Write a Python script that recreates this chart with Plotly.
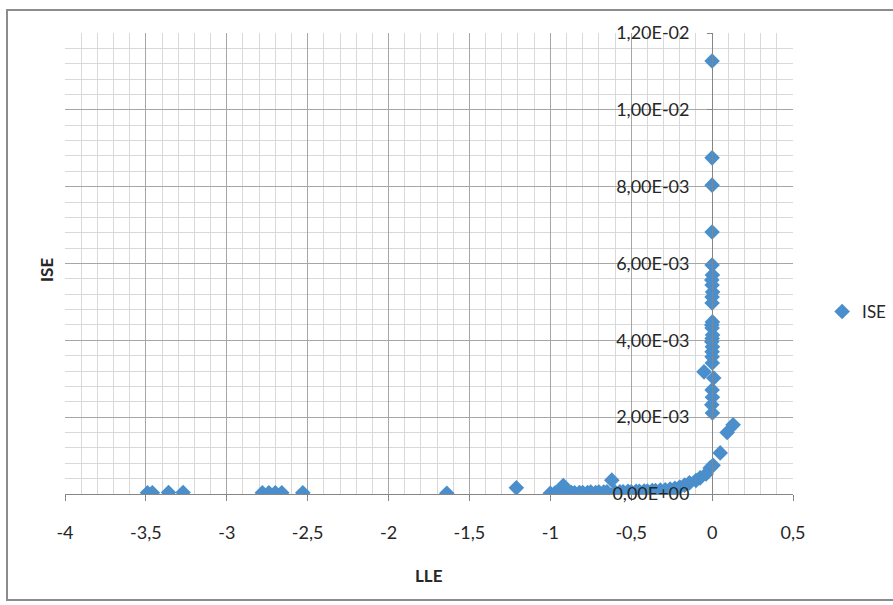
import plotly.graph_objects as go

# ---- data ----
lle = [
    -3.49, -3.46, -3.36, -3.27, -2.78, -2.74, -2.70, -2.66, -2.53, -1.64,
    -1.21,
    -1.00, -0.97, -0.95, -0.92, -0.90, -0.87, -0.85, -0.82, -0.80, -0.77,
    -0.75, -0.72, -0.70, -0.67, -0.65, -0.62, -0.60, -0.57, -0.55, -0.52,
    -0.50, -0.47, -0.45, -0.42, -0.40, -0.37, -0.35,
    -0.32, -0.29, -0.26, -0.23, -0.20, -0.17, -0.14, -0.10, -0.074, -0.037,
    -0.012, 0.006, 0.05, 0.093, 0.13,
    0.0, 0.0, 0.0, 0.0, 0.0, 0.002, -0.002, 0.0, 0.003, 0.0, 0.0,
    0.002, -0.002, 0.0, 0.003, 0.0, -0.002, 0.002, 0.0, 0.0, 0.001,
    -0.05, 0.01, 0.0, 0.002, -0.002, 0.002,
]
ise = [
    3e-5, 3e-5, 4e-5, 4e-5, 3e-5, 3e-5, 3e-5, 3e-5, 3e-5, 2e-5,
    1.6e-4,
    2e-5, 3e-5, 3e-5, 2.2e-4, 3e-5, 4e-5, 3e-5, 4e-5, 4e-5, 4e-5,
    5e-5, 4e-5, 5e-5, 5e-5, 6e-5, 3.6e-4, 5e-5, 6e-5, 6e-5, 7e-5,
    6e-5, 7e-5, 7e-5, 8e-5, 8e-5, 9e-5, 9e-5,
    1.0e-4, 1.1e-4, 1.3e-4, 1.5e-4, 1.8e-4, 2.3e-4, 2.9e-4, 3.5e-4, 4.2e-4, 5.2e-4,
    6.8e-4, 7.5e-4, 1.07e-3, 1.6e-3, 1.8e-3,
    1.127e-2, 8.75e-3, 8.04e-3, 6.82e-3, 5.96e-3, 5.70e-3, 5.57e-3, 5.44e-3, 5.26e-3, 5.13e-3, 4.97e-3,
    4.48e-3, 4.40e-3, 4.32e-3, 4.14e-3, 4.05e-3, 3.96e-3, 3.83e-3, 3.70e-3, 3.57e-3, 3.41e-3,
    3.18e-3, 3.02e-3, 2.71e-3, 2.52e-3, 2.32e-3, 2.11e-3,
]

x_tickvals = [-4, -3.5, -3, -2.5, -2, -1.5, -1, -0.5, 0, 0.5]
x_ticktext = ["-4", "-3,5", "-3", "-2,5", "-2", "-1,5", "-1", "-0,5", "0", "0,5"]
y_tickvals = [0, 0.002, 0.004, 0.006, 0.008, 0.010, 0.012]
y_ticktext = ["0,00E+00", "2,00E-03", "4,00E-03", "6,00E-03", "8,00E-03", "1,00E-02", "1,20E-02"]

FONT = "Lato, 'Open Sans', sans-serif"
TXT = "#262626"
MARK = "#4A8FCC"

fig = go.Figure()
fig.add_trace(go.Scatter(
    x=lle, y=ise, mode="markers", name="ISE",
    marker=dict(symbol="diamond", size=12, color=MARK, line=dict(width=0)),
))

xmin, xmax = -4, 0.5
fig.update_layout(
    width=893, height=605,
    margin=dict(l=65, r=100, t=33, b=111, autoexpand=False),
    paper_bgcolor="white", plot_bgcolor="white",
    font=dict(family=FONT, size=18, color=TXT),
    showlegend=True,
    legend=dict(x=1.040, xanchor="left", y=0.395, yanchor="middle",
                font=dict(family=FONT, size=17, color=TXT),
                bgcolor="rgba(0,0,0,0)", itemwidth=30),
    xaxis=dict(
        range=[xmin, xmax], domain=[0, 1],
        tickvals=x_tickvals, ticktext=x_ticktext,
        showgrid=True, gridcolor="#a6a6a6", gridwidth=1,
        minor=dict(dtick=0.1, showgrid=True, gridcolor="#d9d9d9", gridwidth=1, ticks=""),
        showline=True, linecolor="#868686", linewidth=1,
        ticks="outside", ticklen=6, tickcolor="#868686",
        ticklabelstandoff=16,
        zeroline=False, automargin=False,
        tickfont=dict(family=FONT, size=18, color=TXT),
    ),
    yaxis=dict(
        range=[0, 0.012],
        tickvals=y_tickvals, ticktext=y_ticktext,
        anchor="free", position=(0 - xmin) / (xmax - xmin),
        showgrid=True, gridcolor="#a6a6a6", gridwidth=1,
        minor=dict(dtick=0.0004, showgrid=True, gridcolor="#d9d9d9", gridwidth=1, ticks=""),
        showline=True, linecolor="#868686", linewidth=1,
        ticks="outside", ticklen=5, tickcolor="#868686",
        ticklabelstandoff=14,
        zeroline=False, automargin=False,
        tickfont=dict(family=FONT, size=18, color=TXT),
    ),
    annotations=[
        dict(text="<b>LLE</b>", xref="paper", yref="paper", x=0.5, y=-0.176,
             showarrow=False, font=dict(family=FONT, size=17, color=TXT),
             xanchor="center", yanchor="middle"),
        dict(text="<b>ISE</b>", xref="paper", yref="paper", x=-0.0247, y=0.486,
             showarrow=False, textangle=-90, font=dict(family=FONT, size=17, color=TXT),
             xanchor="center", yanchor="middle"),
    ],
    shapes=[
        dict(type="rect", xref="paper", yref="paper",
             x0=(7 - 65) / 728, x1=(905 - 65) / 728,
             y0=(494 - 600) / 461, y1=(494 - 10) / 461,
             line=dict(color="#8c8c8c", width=2), fillcolor="rgba(0,0,0,0)", layer="below"),
    ],
)

fig.write_html("out.html")
